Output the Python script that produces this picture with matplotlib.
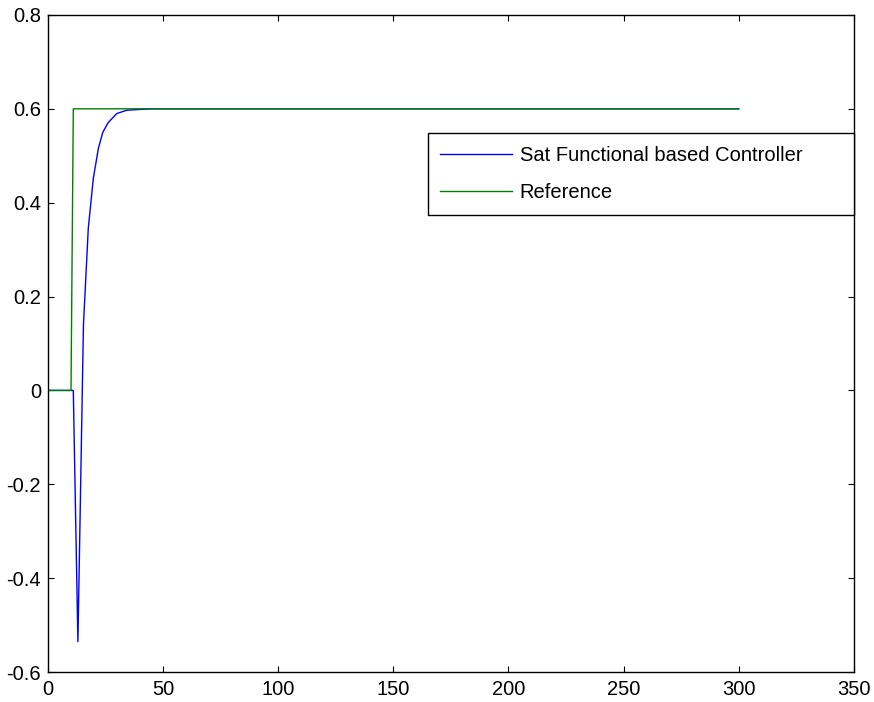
import matplotlib.pyplot as plt

# blue response
t_sat = [0, 11, 13, 15.4, 17.5, 19.7, 21.9, 23.8, 26.2, 29.9, 34.2, 41, 45, 300]
y_sat = [0, 0, -0.535, 0.139, 0.345, 0.452, 0.516, 0.55, 0.571, 0.59, 0.597, 0.599, 0.6, 0.6]

# step reference
t_ref = [0, 10, 11, 300]
y_ref = [0, 0, 0.6, 0.6]

xticks = [0, 50, 100, 150, 200, 250, 300, 350]
yticks = [-0.6, -0.4, -0.2, 0, 0.2, 0.4, 0.6, 0.8]
ylabels = ['-0.6', '-0.4', '-0.2', '0', '0.2', '0.4', '0.6', '0.8']

plt.rcParams['font.family'] = ['Liberation Sans', 'DejaVu Sans']
plt.rcParams['font.size'] = 14.5

fig = plt.figure(figsize=(8.74, 7.02), dpi=100)
ax = fig.add_axes([0.0549, 0.0427, 0.922, 0.936])

ax.plot(t_sat, y_sat, color=(0, 0, 1), lw=1, label='Sat Functional based Controller')
ax.plot(t_ref, y_ref, color=(0, 0.5, 0), lw=1, label='Reference')

ax.set_xlim(0, 350)
ax.set_ylim(-0.6, 0.8)
ax.set_xticks(xticks)
ax.set_yticks(yticks)
ax.set_yticklabels(ylabels)
ax.tick_params(direction='in', top=True, right=True, length=4, width=0.8, pad=5)
ax.tick_params(axis='x', pad=6)
for s in ax.spines.values():
  s.set_linewidth(1)

leg = ax.legend(loc='upper left', bbox_to_anchor=(0.471, 0.703, 0.529, 0.117),
                mode='expand', borderaxespad=0, fancybox=False, framealpha=1,
                edgecolor='black', handlelength=3.55, handletextpad=0.4,
                labelspacing=0.92, borderpad=0.62, handleheight=0.7)
leg.get_frame().set_linewidth(1)

fig.savefig('out.png', dpi=100)
